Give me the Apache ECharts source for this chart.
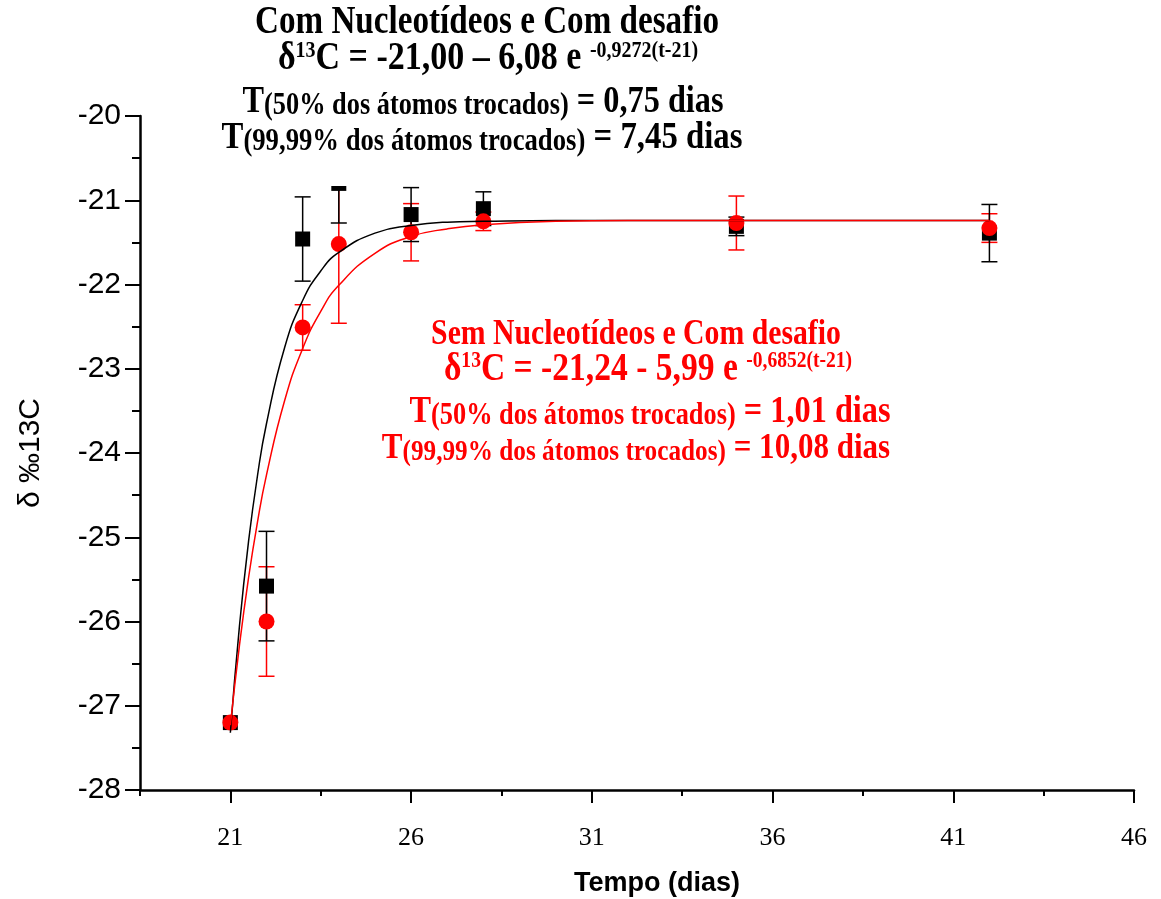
<!DOCTYPE html>
<html>
<head>
<meta charset="utf-8">
<script src="https://cdn.jsdelivr.net/npm/echarts@6/dist/echarts.min.js"></script>
<style>
  html, body { margin: 0; padding: 0; background: #fff; }
  #chart { width: 1161px; height: 899px; }
</style>
</head>
<body>
<div id="chart"></div>
<script>
// dias de coleta e médias de delta13C (com / sem nucleotídeos)
const days = [21, 22, 23, 24, 26, 28, 35, 42];
const comMean = [-27.20, -25.58, -21.46, -20.80, -21.17, -21.10, -21.31, -21.39];
const comErr = [0, 0.65, 0.50, 0.47, 0.32, 0.20, 0.11, 0.34];
const semMean = [-27.20, -26.00, -22.51, -21.52, -21.38, -21.25, -21.27, -21.33];
const semErr = [0, 0.65, 0.27, 0.94, 0.34, 0.11, 0.32, 0.17];

// curvas ajustadas
const fitDays = [21, 21.25, 21.5, 21.75, 22, 22.5, 23, 23.5, 24, 25, 26, 27, 28, 30, 32, 35, 42];
const comFit = [-27.32, -26.06, -25.06, -24.27, -23.65, -22.75, -22.19, -21.84, -21.62, -21.39, -21.30, -21.26, -21.25, -21.24, -21.24, -21.24, -21.24];
const semFit = [-27.23, -26.29, -25.49, -24.82, -24.26, -23.38, -22.76, -22.32, -22.01, -21.63, -21.43, -21.34, -21.29, -21.25, -21.24, -21.24, -21.24];

const xTicks = [21, 26, 31, 36, 41, 46];
const xMinorTicks = [18.5, 23.5, 28.5, 33.5, 38.5, 43.5];

const serif = "'Liberation Serif', 'Times New Roman', serif";
const sans = "'Liberation Sans', Arial, sans-serif";

function zip(a, b, c) {
  return a.map((v, i) => c ? [v, b[i], c[i]] : [v, b[i]]);
}

function errBars(color) {
  return function (params, api) {
    const x = api.value(0), y = api.value(1), e = api.value(2);
    if (!e) return null;
    const top = api.coord([x, y + e]);
    const bot = api.coord([x, y - e]);
    const hw = 8;
    const st = { stroke: color, lineWidth: 1.5 };
    return {
      type: 'group',
      children: [
        { type: 'line', shape: { x1: top[0], y1: top[1], x2: bot[0], y2: bot[1] }, style: st },
        { type: 'line', shape: { x1: top[0] - hw, y1: top[1], x2: top[0] + hw, y2: top[1] }, style: st },
        { type: 'line', shape: { x1: bot[0] - hw, y1: bot[1], x2: bot[0] + hw, y2: bot[1] }, style: st }
      ]
    };
  };
}

function richStyle(color, big, small) {
  const base = { fontFamily: serif, fontWeight: 'bold', fill: color };
  return {
    a: Object.assign({}, base, { fontSize: big, verticalAlign: 'bottom' }),
    s: Object.assign({}, base, { fontSize: small, verticalAlign: 'top' }),
    p: Object.assign({}, base, { fontSize: small, verticalAlign: 'bottom' })
  };
}

// texto em negrito estreito como no original (scaleX)
function textLine(str, x, y, color, big, small) {
  return {
    type: 'text', x: x, y: y, z: 60, scaleX: 0.85,
    style: { text: str, rich: richStyle(color, big, small || big), align: 'center', verticalAlign: 'middle', fill: color }
  };
}

const chart = echarts.init(document.getElementById('chart'));

const option = {
  animation: false,
  backgroundColor: '#fff',
  grid: { left: 140, right: 27, top: 116, bottom: 109, containLabel: false, outerBoundsMode: 'none' },
  xAxis: [{
    type: 'value', min: 18.5, max: 46, position: 'bottom',
    name: 'Tempo (dias)', nameLocation: 'middle', nameGap: 80,
    nameTextStyle: { fontFamily: sans, fontWeight: 'bold', fontSize: 27, color: '#000', padding: [0, 0, 0, 40] },
    axisLine: { lineStyle: { color: '#000', width: 2.5 } },
    axisTick: { customValues: xMinorTicks, length: 6, lineStyle: { color: '#000', width: 2 } },
    axisLabel: { show: false },
    splitLine: { show: false }
  }, {
    type: 'value', min: 18.5, max: 46, position: 'bottom',
    axisLine: { show: false },
    axisTick: { customValues: xTicks, length: 13, lineStyle: { color: '#000', width: 2 } },
    axisLabel: { customValues: xTicks, fontFamily: serif, fontSize: 26, color: '#000', margin: 35 },
    splitLine: { show: false }
  }],
  yAxis: {
    type: 'value', min: -28, max: -20, interval: 1,
    name: 'δ ‰13C', nameLocation: 'middle', nameRotate: 90, nameGap: 94,
    nameTextStyle: { fontFamily: sans, fontSize: 30, color: '#000' },
    axisLine: { show: true, lineStyle: { color: '#000', width: 2.5 } },
    axisTick: { length: 15, lineStyle: { color: '#000', width: 2 } },
    minorTick: { show: true, splitNumber: 2, length: 8, lineStyle: { color: '#000', width: 2 } },
    axisLabel: { fontFamily: sans, fontSize: 30, color: '#000', margin: 19 },
    splitLine: { show: false }
  },
  graphic: [
    { type: 'rect', z: 50, shape: { x: 215, y: 0, width: 530, height: 186 }, style: { fill: '#fff' } },
    textLine('{a|Com Nucleotídeos e Com desafio}', 487, 23, '#000', 39),
    textLine('{a|δ}{s|13}{a|C = -21,00 – 6,08 e }{s|-0,9272(t-21)}', 488, 59, '#000', 40, 23.5),
    textLine('{a|T}{p|(50% dos átomos trocados)}{a| = 0,75 dias}', 483, 102, '#000', 38, 31),
    textLine('{a|T}{p|(99,99% dos átomos trocados)}{a| = 7,45 dias}', 482, 138, '#000', 38.6, 31.4),
    textLine('{a|Sem Nucleotídeos e Com desafio}', 636, 335, '#ff0000', 35),
    textLine('{a|δ}{s|13}{a|C = -21,24 - 5,99 e }{s|-0,6852(t-21)}', 648, 370, '#ff0000', 39.5, 23),
    textLine('{a|T}{p|(50% dos átomos trocados)}{a| = 1,01 dias}', 650, 412, '#ff0000', 38, 31),
    textLine('{a|T}{p|(99,99% dos átomos trocados)}{a| = 10,08 dias}', 636, 449, '#ff0000', 36.5, 29.7)
  ],
  series: [
    {
      name: 'ajuste com', type: 'line', data: zip(fitDays, comFit), smooth: true,
      showSymbol: false, lineStyle: { color: '#000', width: 1.5 }
    },
    {
      name: 'ajuste sem', type: 'line', data: zip(fitDays, semFit), smooth: true,
      showSymbol: false, lineStyle: { color: '#ff0000', width: 1.5 }
    },
    {
      name: 'Com Nucleotídeos', type: 'scatter', data: zip(days, comMean),
      symbol: 'rect', symbolSize: 15, itemStyle: { color: '#000', opacity: 1 }
    },
    {
      name: 'erro sem', type: 'custom', data: zip(days, semMean, semErr),
      renderItem: errBars('#ff0000')
    },
    {
      name: 'Sem Nucleotídeos', type: 'scatter', data: zip(days, semMean),
      symbol: 'circle', symbolSize: 16, itemStyle: { color: '#ff0000', opacity: 1 }
    },
    {
      name: 'erro com', type: 'custom', data: zip(days, comMean, comErr),
      renderItem: errBars('#000')
    }
  ]
};

chart.setOption(option);
</script>
</body>
</html>
